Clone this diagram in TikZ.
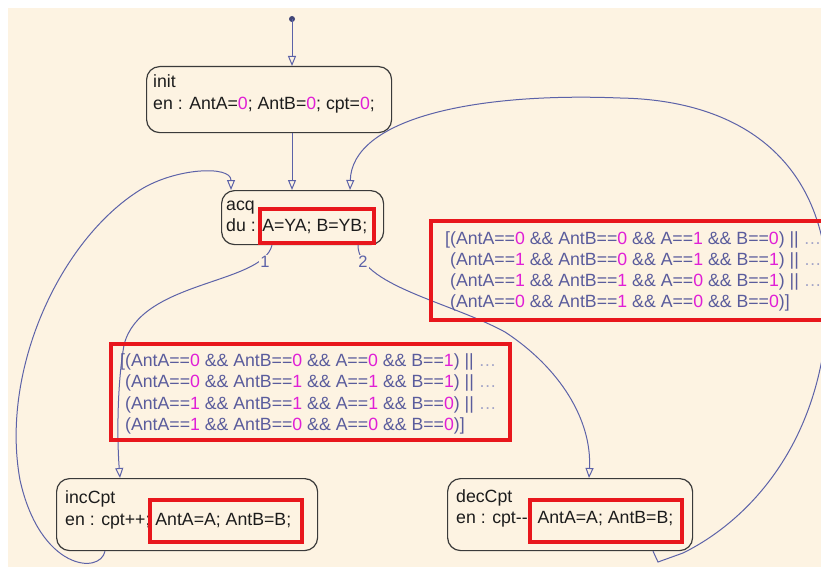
\documentclass[tikz,border=0pt]{standalone}
\usepackage{fontspec}
\setmainfont{Liberation Sans}
\usetikzlibrary{arrows.meta,calc}

\definecolor{paper}{HTML}{FDF3E2}
\definecolor{wire}{HTML}{5C62A8}
\definecolor{cond}{HTML}{5A5C9C}
\definecolor{numc}{HTML}{E01FD6}
\definecolor{hilite}{HTML}{E8161C}
\definecolor{ink}{HTML}{1C1C1C}
\definecolor{edge}{HTML}{3A3A3A}

\newcommand\nm[1]{\textcolor{numc}{#1}}
\newcommand\contdots{\textcolor{cond!55}{…}}
\newcommand\cnd[4]{(AntA==\nm{#1} \&\& AntB==\nm{#2} \&\& A==\nm{#3} \&\& B==\nm{#4})}

\begin{document}
\begin{tikzpicture}[x=1pt,y=-1pt,
  statebox/.style={draw=edge, line width=1.2pt, rounded corners=13pt, inner sep=0pt,
    anchor=north west, fill=paper},
  stxt/.style={anchor=base west, inner sep=0pt, text=ink, font=\fontsize{17.7}{21}\selectfont},
  ctxt/.style={anchor=base west, inner sep=0pt, text=cond, font=\fontsize{17.7}{21}\selectfont},
  hlbox/.style={draw=hilite, line width=3.6pt, inner sep=0pt, anchor=north west},
  wireline/.style={draw=wire, line width=1pt},
  arr/.style={-{Triangle[open,length=10pt,width=8pt]}},
  tnum/.style={fill=paper, inner sep=1pt, text=wire, font=\fontsize{16.5}{16.5}\selectfont}
]
% page and canvas
\useasboundingbox (0,0) rectangle (821,567);
\fill[white] (0,0) rectangle (821,567);
\fill[paper] (8,8) rectangle (821,567);

% states
\node[statebox, minimum width=245pt, minimum height=66pt] (init) at (146,66) {};
\node[statebox, minimum width=162pt, minimum height=54pt] (acq) at (221,190) {};
\node[statebox, minimum width=261pt, minimum height=72pt] (inc) at (56,478) {};
\node[statebox, minimum width=245pt, minimum height=72pt] (dec) at (447,478) {};

% default transition
\fill[wire!70!black] (292,19) circle (3pt);
\coordinate (start) at (292,19);
\draw[wireline, arr] (start) -- (init.north -| start);
\draw[wireline, arr] (init.south -| start) -- (acq.north -| start);

% loop back from incCpt to acq
\draw[wireline, arr] ($(inc.south west)+(49,0)$)
  .. controls (100,575) and (40,570) .. (20,480)
  .. controls (0,370) and (60,240) .. (140,190)
  .. controls (175,168) and (231,165) .. ($(acq.north west)+(10,0)$);

% loop back from decCpt to acq
\draw[wireline, arr] ($(dec.south west)+(206,0)$) -- (658,562) -- (683,553)
  .. controls (750,520) and (825,440) .. (828,300)
  .. controls (830,160) and (740,100) .. (620,98)
  .. controls (470,92) and (352,120) .. ($(acq.north west)+(129,0)$);

% transition 1 : acq -> incCpt
\draw[wireline, arr] ($(acq.south west)+(51,0)$)
  .. controls (262,285) and (140,280) .. (124,345)
  .. controls (117,385) and (117,440) .. ($(inc.north west)+(64,0)$);
% transition 2 : acq -> decCpt
\draw[wireline, arr] ($(acq.south west)+(137,0)$)
  .. controls (358,285) and (450,302) .. (505,332)
  .. controls (560,368) and (592,420) .. ($(dec.north west)+(142,0)$);
\node[tnum] (t1) at (265,262) {1};
\node[tnum] (t2) at (363,262) {2};

% state texts
\node[stxt] (initname) at (153,88) {init};
\node[stxt] (initact) at (153,110) {en : AntA=\nm{0}; AntB=\nm{0}; cpt=\nm{0};};
\node[stxt] (acqname) at (226,210) {acq};
\node[stxt] (acqact) at (226,231) {du : A=YA; B=YB;};
\node[stxt] (incname) at (65,503) {incCpt};
\node[stxt] (incact) at (65,525) {en : cpt++; AntA=A; AntB=B;};
\node[stxt] (decname) at (456,502) {decCpt};
\node[stxt] (decact) at (456,523) {en : cpt-{}-; AntA=A; AntB=B;};

% highlight frames in the states
\node[hlbox, minimum width=114pt, minimum height=34pt] (hacq) at (258,207) {};
\node[hlbox, minimum width=152pt, minimum height=42pt] (hinc) at (148,498) {};
\node[hlbox, minimum width=152pt, minimum height=42pt] (hdec) at (528,498) {};

% condition of transition 1
\node[hlbox, minimum width=399pt, minimum height=96pt] (c1box) at (109,342) {};
\node[ctxt] (c1a) at (120,366) {[\cnd0001 || \contdots};
\node[ctxt] (c1b) at (125,387.5) {\cnd0111 || \contdots};
\node[ctxt] (c1c) at (125,409) {\cnd1110 || \contdots};
\node[ctxt] (c1d) at (125,430.5) {\cnd1000]};

% condition of transition 2
\node[hlbox, minimum width=400pt, minimum height=99pt] (c2box) at (429,219) {};
\node[ctxt] (c2a) at (445,244) {[\cnd0010 || \contdots};
\node[ctxt] (c2b) at (450,265.5) {\cnd1011 || \contdots};
\node[ctxt] (c2c) at (450,286.5) {\cnd1101 || \contdots};
\node[ctxt] (c2d) at (450,307.5) {\cnd0100]};
\end{tikzpicture}
\end{document}
